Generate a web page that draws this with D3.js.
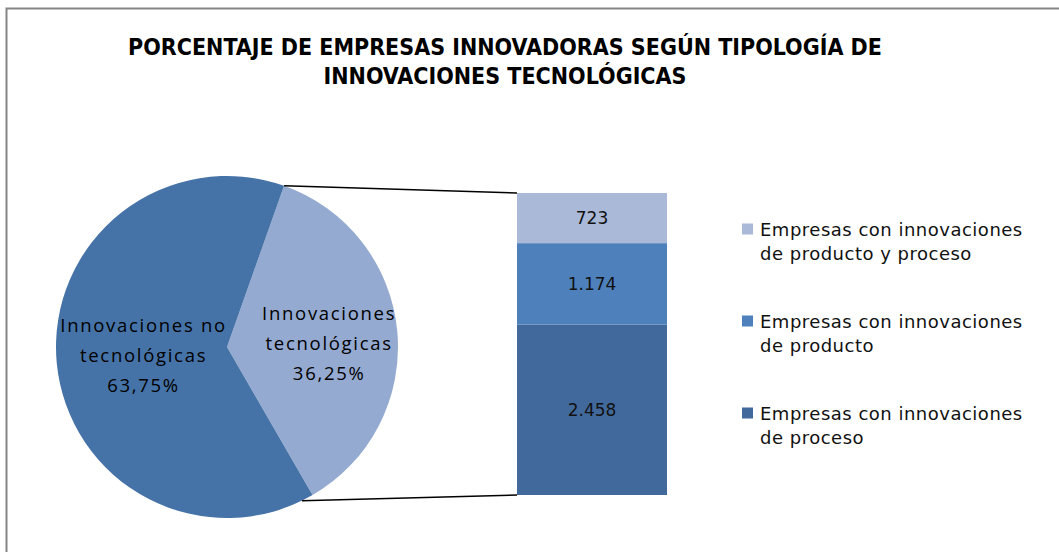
<!DOCTYPE html>
<html>
<head>
<meta charset="utf-8">
<script src="https://cdn.jsdelivr.net/npm/d3@7"></script>
<style>
  body { margin: 0; background: #fff; }
</style>
</head>
<body>
<div id="chart"></div>
<script>
// pie: share of innovative firms
var pieLabels = ["Innovaciones tecnológicas", "Innovaciones no tecnológicas"];
var pieValues = [36.25, 63.75];
var pieText = [["Innovaciones", "tecnológicas", "36,25%"], ["Innovaciones no", "tecnológicas", "63,75%"]];

// bar: breakdown of the technological slice (bottom to top)
var barCategories = ["Empresas con innovaciones de proceso", "Empresas con innovaciones de producto", "Empresas con innovaciones de producto y proceso"];
var barValues = [2458, 1174, 723];
var barText = ["2.458", "1.174", "723"];

var titleLines = ["PORCENTAJE DE EMPRESAS INNOVADORAS SEGÚN TIPOLOGÍA DE", "INNOVACIONES TECNOLÓGICAS"];

var width = 1059, height = 552;
var svg = d3.select("#chart").append("svg").attr("width", width).attr("height", height);

// chart frame
svg.append("rect").attr("x", 6.5).attr("y", 8.5).attr("width", 1080).attr("height", 600)
    .attr("fill", "#fff").attr("stroke", "#858585").attr("stroke-width", 2);

// title
svg.selectAll("text.title").data(titleLines).enter().append("text")
    .attr("class", "title")
    .attr("x", 505).attr("y", function(d, i) { return 47 + i * 29; })
    .attr("text-anchor", "middle").attr("dominant-baseline", "central")
    .style("font-family", "'DejaVu Sans Condensed', 'DejaVu Sans'")
    .style("font-weight", "bold").style("font-size", "23px").style("fill", "#000")
    .text(function(d) { return d; });

// pie
var cx = 227, cy = 347, r = 171;
var pieColors = ["#94aad0", "#4673a7"];
var deg = Math.PI / 180;
var pie = d3.pie().sort(null).startAngle(19.5 * deg).endAngle(19.5 * deg + 2 * Math.PI);
var arcs = pie(pieValues);
var arc = d3.arc().innerRadius(0).outerRadius(r);

var g = svg.append("g").attr("transform", "translate(" + cx + "," + cy + ")");
g.selectAll("path").data(arcs).enter().append("path")
    .attr("d", arc).attr("fill", function(d, i) { return pieColors[i]; });

// pie labels
var labelRadius = [0.6 * r, 0.49 * r];
var labelShift = [5, 0];
arcs.forEach(function(a, i) {
    var c = d3.arc().innerRadius(labelRadius[i]).outerRadius(labelRadius[i]).centroid(a);
    var t = g.append("text").attr("text-anchor", "middle")
        .style("font-family", "'Open Sans', sans-serif").style("font-size", "18.5px")
        .style("letter-spacing", "1.7px").style("fill", "#000");
    pieText[i].forEach(function(line, j) {
        t.append("tspan").attr("x", c[0]).attr("y", c[1] + labelShift[i] + (j - 1) * 30)
            .attr("dominant-baseline", "central").text(line);
    });
});

// stacked bar
var barX = 517, barW = 150;
var total = d3.sum(barValues);
var y = d3.scaleLinear().domain([0, total]).range([495, 193]);
var barColors = ["#42699b", "#4e80bc", "#aab9d8"];
var cum = 0;
var stacks = barValues.map(function(v) { var s = { y0: cum, y1: cum + v }; cum += v; return s; });

svg.selectAll("rect.bar").data(stacks).enter().append("rect")
    .attr("class", "bar")
    .attr("x", barX).attr("width", barW)
    .attr("y", function(d) { return y(d.y1); })
    .attr("height", function(d) { return y(d.y0) - y(d.y1); })
    .attr("fill", function(d, i) { return barColors[i]; });

svg.selectAll("text.barlabel").data(stacks).enter().append("text")
    .attr("class", "barlabel")
    .attr("x", barX + barW / 2)
    .attr("y", function(d) { return (y(d.y0) + y(d.y1)) / 2; })
    .attr("text-anchor", "middle").attr("dominant-baseline", "central")
    .style("font-family", "'DejaVu Sans', sans-serif").style("font-size", "17px").style("fill", "#111")
    .text(function(d, i) { return barText[i]; });

// connector lines from the split slice to the bar
var split = arcs[0];
function edge(a) { return [cx + r * Math.sin(a), cy - r * Math.cos(a)]; }
var p0 = edge(split.startAngle), p1 = edge(split.endAngle + 4 * deg);
svg.append("line").attr("x1", p0[0]).attr("y1", p0[1]).attr("x2", barX).attr("y2", y(total))
    .attr("stroke", "#000").attr("stroke-width", 1.5);
svg.append("line").attr("x1", p1[0]).attr("y1", p1[1]).attr("x2", barX).attr("y2", y(0))
    .attr("stroke", "#000").attr("stroke-width", 1.5);

// legend (top to bottom: reverse of stack order)
var legendLines = [["Empresas con innovaciones", "de producto y proceso"], ["Empresas con innovaciones", "de producto"], ["Empresas con innovaciones", "de proceso"]];
var legendColors = barColors.slice().reverse();
var lg = svg.selectAll("g.legend").data(legendLines).enter().append("g")
    .attr("class", "legend")
    .attr("transform", function(d, i) { return "translate(742," + (229 + i * 92) + ")"; });
lg.append("rect").attr("x", 0).attr("y", -5.5).attr("width", 11).attr("height", 11)
    .attr("fill", function(d, i) { return legendColors[i]; });
lg.each(function(d) {
    var t = d3.select(this).append("text")
        .style("font-family", "'DejaVu Sans', sans-serif").style("font-size", "18px")
        .style("letter-spacing", "0.5px").style("fill", "#111");
    d.forEach(function(line, j) {
        t.append("tspan").attr("x", 18).attr("y", j * 24.5).attr("dominant-baseline", "central").text(line);
    });
});
</script>
</body>
</html>
